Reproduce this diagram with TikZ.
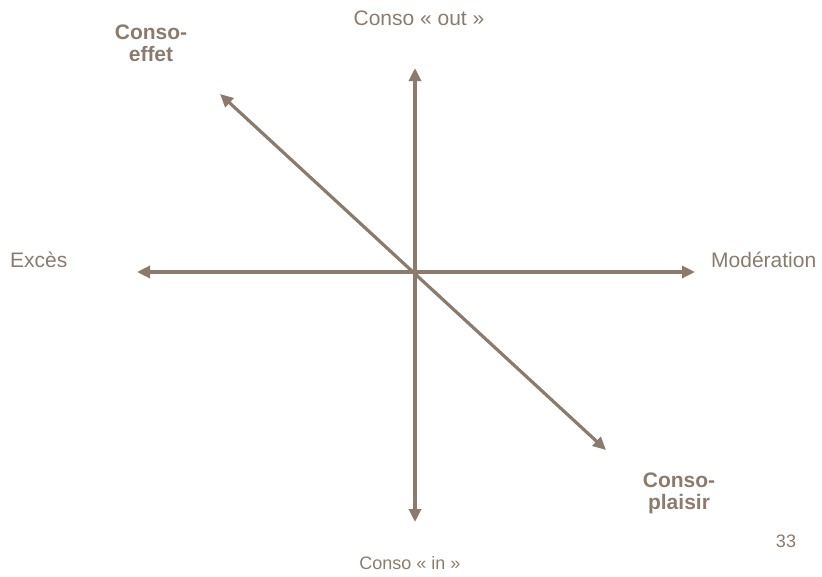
\documentclass[tikz,border=0pt]{standalone}
\usepackage{fontspec}
\setmainfont{Liberation Sans}
\usepackage{tikz}
\usetikzlibrary{arrows.meta}
\usepackage{xcolor}
\definecolor{taupe}{RGB}{140,123,109}

\begin{document}
\begin{tikzpicture}[
   x=1pt,y=-1pt,
   axis/.style={{Triangle[length=13pt,width=12pt]}-{Triangle[length=13pt,width=12pt]},
                line width=3.2pt,draw=taupe},
   lbl/.style={text=taupe,inner sep=0pt,anchor=base,font=\fontsize{21}{22}\selectfont},
   pole/.style={lbl,align=center,font=\fontsize{21}{22}\selectfont\bfseries}
 ]
  \useasboundingbox (0,0) rectangle (822,576);
  \coordinate (centre) at (415,272);
  \coordinate (haut) at (415,68);
  \coordinate (bas) at (415,522);
  \coordinate (gauche) at (137,272);
  \coordinate (droite) at (695,272);
  \coordinate (effet) at (220,94);
  \coordinate (plaisir) at (606,450);
  \node[lbl] (out) at (419,25) {Conso « out »};
  \node[lbl,font=\fontsize{18}{20}\selectfont] (in) at (410,569) {Conso « in »};
  \node[lbl,anchor=base west] (exces) at (10,267) {Excès};
  \node[lbl,anchor=base west] (moder) at (711,267) {Modération};
  % ancre base = ligne du bas
  \node[pole] (ceffet) at (151,61) {Conso-\\effet};
  \node[pole] (cplaisir) at (679,509) {Conso-\\plaisir};
  \node[lbl,font=\fontsize{18}{20}\selectfont] (page) at (786,547) {33};
  \draw[axis] (bas) -- (haut);
  \draw[axis] (gauche) -- (droite);
  \draw[axis] (effet) -- (plaisir);
 \end{tikzpicture}
\end{document}
